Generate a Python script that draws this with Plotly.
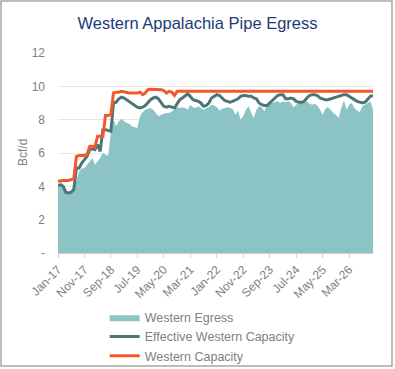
import plotly.graph_objects as go
import pandas as pd

start_month = "2017-01-01"
n_months = 120

western_egress = [
    4.1, 4.05, 3.95, 3.7, 3.65, 3.65, 3.75, 4.4, 4.9, 5.05,
    5.1, 5.3, 5.5, 5.7, 5.3, 5.5, 5.7, 6.0, 5.9, 5.85,
    7.2, 8.0, 7.6, 7.9, 8.05, 7.9, 7.8, 7.75, 7.6, 7.55,
    7.5, 8.2, 8.45, 8.6, 8.65, 8.7, 8.6, 8.4, 8.2, 8.3,
    8.35, 8.4, 8.4, 8.5, 8.6, 8.75, 8.7, 8.75, 8.7, 8.6,
    8.9, 8.75, 8.7, 8.8, 8.7, 8.6, 8.7, 8.75, 8.9, 8.85,
    8.75, 8.55, 8.65, 8.7, 8.75, 8.7, 8.65, 8.3, 8.55, 8.0,
    8.2, 8.6, 8.8, 8.4, 8.1, 8.6, 8.8, 8.75, 8.5, 8.9,
    8.95, 9.0, 9.05, 9.1, 9.0, 9.1, 9.05, 9.1, 9.0, 8.75,
    8.9, 9.0, 9.1, 9.0, 9.1, 8.95, 8.9, 8.95, 8.85, 8.6,
    8.3, 8.65, 8.75, 8.6, 8.4, 8.3, 8.1, 8.7, 9.15, 8.6,
    8.9, 9.0, 8.7, 8.55, 8.45, 8.8, 8.9, 9.0, 9.1, 8.6,
]

effective_capacity = [
    4.05, 4.1, 4.0, 3.65, 3.6, 3.65, 3.8, 5.1, 5.1, 5.4,
    5.6, 5.8, 6.2, 6.25, 6.2, 6.5, 6.1, 7.4, 7.4, 7.35,
    7.3, 9.0, 9.05, 9.25, 9.35, 9.3, 9.2, 9.1, 9.0, 8.9,
    8.75, 8.7, 8.75, 8.85, 9.05, 9.2, 9.3, 9.35, 9.25, 9.05,
    8.8, 8.75, 8.8, 8.75, 8.7, 8.95, 9.2, 9.3, 9.45, 9.55,
    9.4, 9.2, 9.15, 9.1, 9.0, 8.8, 8.85, 9.0, 9.3, 9.4,
    9.5, 9.45, 9.3, 9.15, 9.1, 9.05, 9.1, 9.2, 9.25, 9.4,
    9.45, 9.45, 9.4, 9.4, 9.3, 9.25, 9.0, 8.9, 8.85, 8.85,
    9.0, 9.2, 9.35, 9.45, 9.5, 9.5, 9.25, 9.25, 9.3, 9.25,
    9.1, 9.05, 9.05, 9.1, 9.3, 9.45, 9.5, 9.5, 9.45, 9.3,
    9.25, 9.2, 9.2, 9.25, 9.3, 9.35, 9.4, 9.45, 9.5, 9.5,
    9.4, 9.3, 9.2, 9.1, 9.05, 9.0, 9.05, 9.2, 9.4, 9.45,
]

western_capacity = [
    4.3, 4.35, 4.35, 4.35, 4.35, 4.4, 4.45, 5.8, 5.85, 5.85,
    5.85, 5.9, 6.4, 6.4, 6.35, 7.0, 7.0, 7.0, 8.25, 8.25,
    8.3, 9.6, 9.65, 9.65, 9.7, 9.65, 9.65, 9.6, 9.6, 9.6,
    9.6, 9.65, 9.5, 9.6, 9.8, 9.82, 9.82, 9.82, 9.8, 9.8,
    9.75, 9.6, 9.7, 9.65, 9.45,
] + [9.7] * 75

tick_labels = ["Jan-17", "Nov-17", "Sep-18", "Jul-19", "May-20", "Mar-21",
               "Jan-22", "Nov-22", "Sep-23", "Jul-24", "May-25", "Mar-26"]
y_ticks = [0, 2, 4, 6, 8, 10, 12]
y_tick_labels = ["-", "2", "4", "6", "8", "10", "12"]

dates = pd.date_range(start_month, periods=n_months, freq="MS")
tick_dates = pd.to_datetime(tick_labels, format="%b-%y")

FONT = "Liberation Sans"
GRAY = "#808080"

fig = go.Figure()
fig.add_trace(go.Scatter(
    x=dates, y=western_egress, name="Western Egress", mode="lines",
    line=dict(width=0, color="#8CC4C6"), fill="tozeroy", fillcolor="#8CC4C6",
))
fig.add_trace(go.Scatter(
    x=dates, y=effective_capacity, name="Effective Western Capacity", mode="lines",
    line=dict(width=3, color="#4D7574"),
))
fig.add_trace(go.Scatter(
    x=dates, y=western_capacity, name="Western Capacity", mode="lines",
    line=dict(width=3, color="#F4582A"),
))

fig.update_layout(
    width=395, height=369,
    margin=dict(l=58, r=22, t=53, b=116, autoexpand=False),
    paper_bgcolor="white", plot_bgcolor="white",
    font=dict(family=FONT, color=GRAY, size=12),
    title=dict(text="Western Appalachia Pipe Egress", x=0.5, xanchor="center",
               y=0.938, yanchor="middle",
               font=dict(family=FONT, size=16.5, color="#1F3A78")),
    showlegend=True,
    legend=dict(orientation="v", xref="container", yref="container",
                x=0.265, xanchor="left", y=0.18, yanchor="top",
                font=dict(family=FONT, size=12.5, color=GRAY),
                bgcolor="rgba(0,0,0,0)", tracegroupgap=0, itemwidth=30),
    xaxis=dict(
        range=[dates[0], dates[-1]],
        tickvals=tick_dates, ticktext=tick_labels, tickangle=-45,
        showgrid=False, showline=True, linecolor="#D0D0D0", linewidth=1,
        ticks="outside", ticklen=4, tickcolor="#D0D0D0",
        tickfont=dict(family=FONT, size=12, color=GRAY),
    ),
    yaxis=dict(
        range=[0, 12], tickvals=y_ticks, ticktext=y_tick_labels,
        showgrid=True, gridcolor="#E6E6E6", gridwidth=1,
        zeroline=False, showline=False, ticklabelstandoff=12,
        tickfont=dict(family=FONT, size=12, color=GRAY),
    ),
    annotations=[dict(text="Bcf/d", xref="paper", yref="paper",
                      x=(23 - 58) / 315, y=0.5, textangle=-90, showarrow=False,
                      xanchor="center", yanchor="middle",
                      font=dict(family=FONT, size=12, color=GRAY))],
    shapes=[dict(type="rect", xref="paper", yref="paper",
                 x0=(1 - 58) / 315, x1=(392 - 58) / 315,
                 y0=(253 - 366) / 200, y1=(253 - 1) / 200,
                 line=dict(color="#A6A6A6", width=1.5), fillcolor="rgba(0,0,0,0)",
                 layer="below")],
)

fig.write_html("out.html", config={"displayModeBar": False},
               post_script="document.body.style.margin='0';document.body.style.padding='0';")
